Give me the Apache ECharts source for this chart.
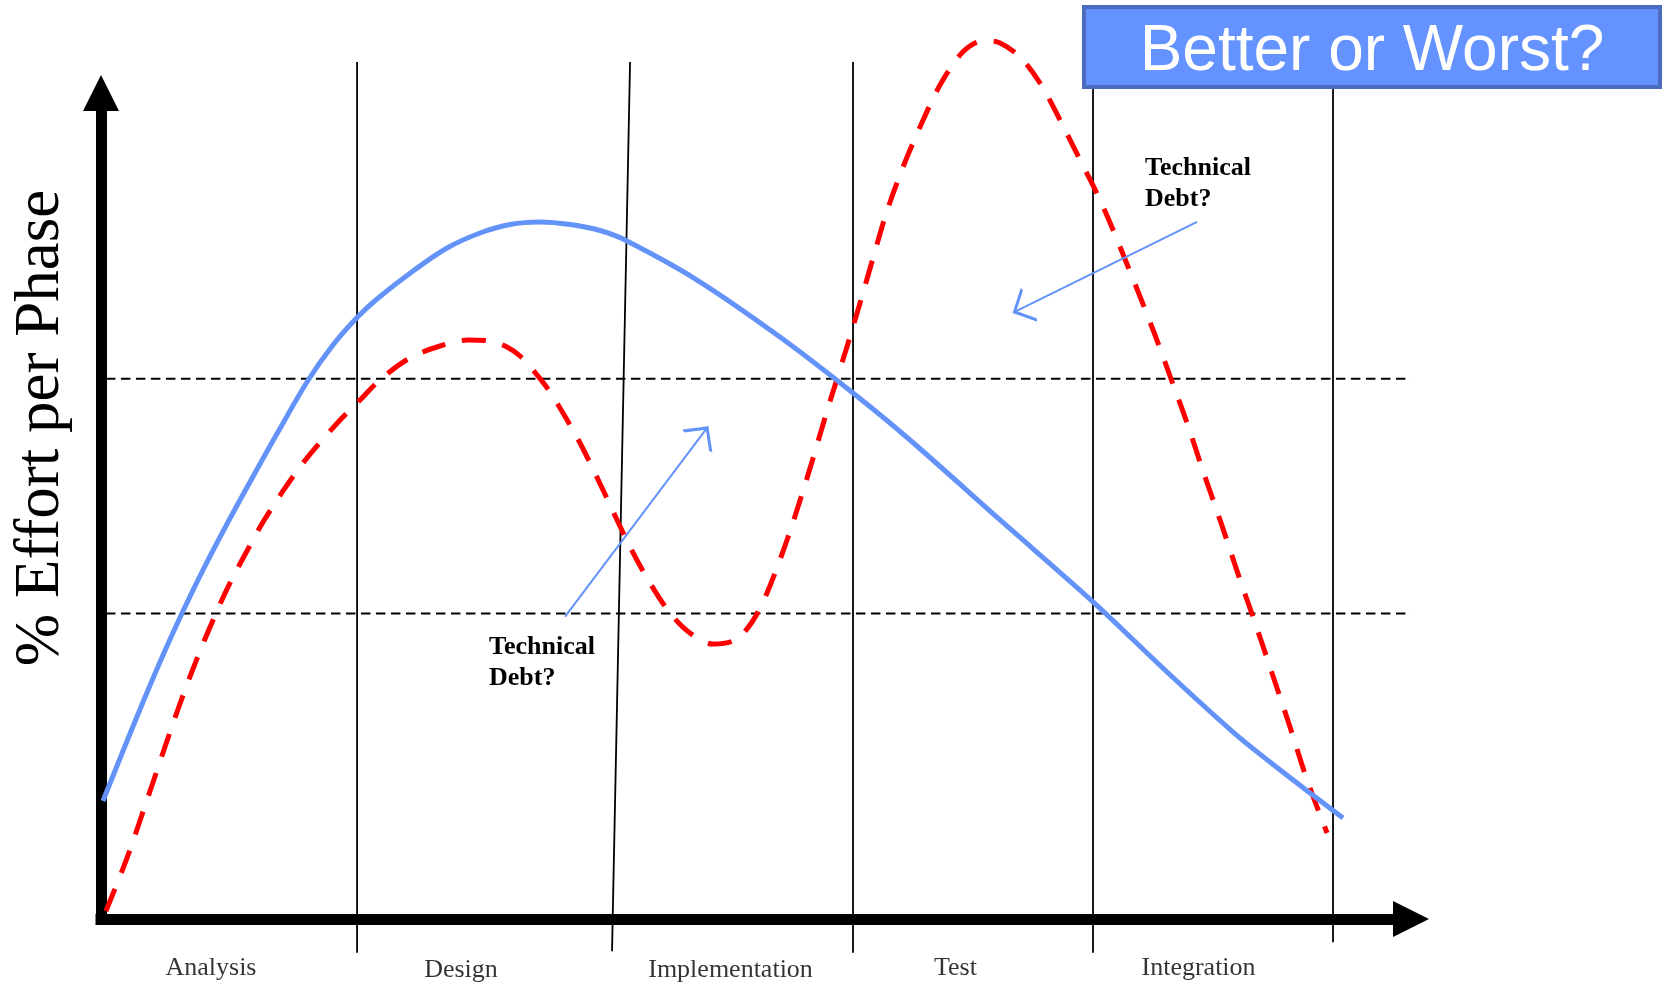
<!DOCTYPE html>
<html><head><meta charset="utf-8">
<script src="https://cdn.jsdelivr.net/npm/echarts@6/dist/echarts.min.js"></script>
<style>html,body{margin:0;padding:0;background:#fff}#c{width:1666px;height:984px}</style>
</head><body><div id="c"></div>
<script>
// Phases (x: % of project timeline, y: % effort)
const phases = ['Analysis', 'Design', 'Implementation', 'Test', 'Integration'];
const phaseLabelX = [8.9, 29.13, 50.94, 69.14, 88.81];
const phaseLabelY = [-5.95, -6.2, -6.2, -5.95, -5.95];

// Phase boundary lines (bottom/top ends)
const boundaryBottomX = [20.72, 41.35, 60.85, 80.27, 99.69];
const boundaryBottomY = [-4.1, -3.9, -4.1, -4.1, -2.8];
const boundaryTopX = [20.72, 42.81, 60.85, 80.27, 99.69];
const boundaryTopY = [103.75, 103.75, 103.75, 103.75, 103.75];

// Horizontal reference levels
const thresholds = [65.4, 37.0];
const thresholdStart = 0.4;
const thresholdEnd = 106;

// Planned effort (solid blue)
const plannedEffort = [
  [0.16, 14.29], [1.78, 20.34], [3.40, 26.27], [5.02, 31.96], [6.60, 37.17], [8.25, 42.25],
  [10.28, 48.06], [12.30, 53.57], [14.32, 58.96], [16.77, 65.25], [18.77, 69.49], [20.72, 72.82],
  [22.33, 75.06], [25.25, 78.45], [28.00, 81.23], [30.67, 83.05], [33.10, 84.08], [35.52, 84.38],
  [37.95, 84.08], [40.38, 83.35], [42.40, 82.20], [48.23, 77.36], [54.94, 70.46], [60.85, 63.68],
  [65.46, 57.99], [72.75, 48.31], [80.27, 38.40], [86.26, 29.90], [91.60, 22.63], [94.59, 19.00],
  [97.83, 15.25], [100.5, 12.23]
];

// Actual effort (dashed red)
const actualEffort = [
  [0.40, 0.97], [2.10, 7.38], [3.97, 15.50], [6.15, 25.06], [7.69, 31.23], [9.31, 37.05],
  [10.52, 40.92], [11.81, 44.55], [13.11, 48.06], [14.73, 51.82], [16.35, 55.21], [17.96, 58.11],
  [19.58, 60.78], [20.72, 62.47], [22.66, 65.38], [25.00, 67.92], [27.43, 69.37], [29.70, 70.10],
  [31.48, 69.98], [32.85, 69.25], [33.91, 68.16], [34.96, 66.46], [35.93, 64.65], [36.90, 62.47],
  [38.76, 57.63], [40.62, 51.94], [42.81, 45.04], [44.42, 40.68], [46.04, 37.05], [47.66, 34.62],
  [49.52, 33.29], [51.30, 33.78], [52.68, 35.96], [53.89, 39.47], [55.51, 45.88], [57.13, 53.39],
  [58.75, 61.50], [60.28, 68.89], [61.42, 74.58], [62.47, 80.02], [63.60, 85.71], [64.90, 91.04],
  [66.27, 95.88], [67.89, 100.97], [69.51, 104.60], [70.72, 106.05], [71.69, 106.29], [72.75, 106.05],
  [74.36, 104.36], [75.98, 101.21], [77.60, 96.73], [79.22, 91.89], [80.84, 87.05], [82.46, 81.36],
  [85.13, 71.31], [86.50, 65.74], [87.88, 60.05], [89.17, 54.24], [90.55, 48.30], [92.17, 41.04],
  [93.22, 36.56], [94.59, 30.51], [96.21, 23.24], [97.59, 16.83], [99.21, 10.41]
];

// "Technical Debt?" pointer arrows: [from, to]
const debtArrows = [
  [[37.55, 36.6], [49.12, 59.6]],
  [[88.69, 84.4], [73.80, 73.4]]
];

const BLUE = '#6393F9';
const chevron = 'path://M10,-18L10.01,-18Z M10,0 L20,18 L18.25,18.97 L10,4.1 L1.75,18.97 L0,18 Z';

const series = [];
boundaryBottomX.forEach((bx, i) => {
  series.push({
    type: 'line', data: [[bx, boundaryBottomY[i]], [boundaryTopX[i], boundaryTopY[i]]],
    symbol: 'none', clip: false, silent: true, z: 1,
    lineStyle: { color: '#000', width: 1.8 }
  });
});
thresholds.forEach(t => {
  series.push({
    type: 'line', data: [[thresholdStart, t], [thresholdEnd, t]],
    symbol: 'none', clip: false, silent: true, z: 1,
    lineStyle: { color: '#000', width: 2, type: [9.5, 5.5] }
  });
});
series.push({
  type: 'line', name: 'Actual', data: actualEffort, smooth: 0.33, symbol: 'none',
  clip: false, z: 3, lineStyle: { color: '#FF0000', width: 5, type: [24, 17] }
});
series.push({
  type: 'line', name: 'Planned', data: plannedEffort, smooth: 0.33, symbol: 'none',
  clip: false, z: 4, lineStyle: { color: BLUE, width: 5 }
});
series.push({
  type: 'lines', coordinateSystem: 'cartesian2d', z: 5, silent: true,
  data: debtArrows.map(a => ({ coords: a })),
  symbol: ['none', chevron], symbolSize: [20, 37.5],
  lineStyle: { color: BLUE, width: 2, opacity: 1, curveness: 0 }
});
series.push({
  type: 'scatter', clip: false, silent: true, symbolSize: 1,
  itemStyle: { color: 'rgba(0,0,0,0)' },
  data: phases.map((p, i) => [phaseLabelX[i], phaseLabelY[i], p]),
  label: {
    show: true, position: 'inside', formatter: p => p.data[2],
    color: '#000', fontFamily: 'Liberation Serif', fontSize: 26
  }
});

const chart = echarts.init(document.getElementById('c'));
chart.setOption({
  animation: false,
  backgroundColor: '#fff',
  grid: { left: 101, top: 93, width: 1310, height: 826, containLabel: false },
  xAxis: {
    type: 'value', min: 0, max: 106,
    axisLabel: { show: false }, axisTick: { show: false }, splitLine: { show: false },
    axisLine: { show: true, symbol: ['none', 'triangle'], symbolSize: [36, 36],
      lineStyle: { color: '#000', width: 11, cap: 'square' } }
  },
  yAxis: {
    type: 'value', min: 0, max: 100,
    axisLabel: { show: false }, axisTick: { show: false }, splitLine: { show: false },
    axisLine: { show: true, symbol: ['none', 'triangle'], symbolSize: [36, 36],
      lineStyle: { color: '#000', width: 11, cap: 'square' } }
  },
  series: series,
  graphic: [
    { type: 'rect', z: 100, shape: { x: 1084, y: 7, width: 576, height: 80 },
      style: { fill: '#6492FF', stroke: '#4A6BC0', lineWidth: 4 } },
    { type: 'text', z: 101, x: 1372, y: 52,
      style: { text: 'Better or Worst?', fill: '#fff', fontFamily: 'Liberation Sans', fontSize: 64,
        align: 'center', verticalAlign: 'middle' } },
    { type: 'text', x: 41.7, y: 428, rotation: Math.PI / 2,
      style: { text: '% Effort per Phase', fill: '#000', fontFamily: 'Liberation Serif', fontSize: 63,
        align: 'center', verticalAlign: 'middle' } },
    { type: 'text', x: 489, y: 632,
      style: { text: 'Technical\nDebt?', fill: '#000', fontFamily: 'Liberation Serif', fontWeight: 'bold',
        fontSize: 26, lineHeight: 31, align: 'left', verticalAlign: 'top' } },
    { type: 'text', x: 1145, y: 153,
      style: { text: 'Technical\nDebt?', fill: '#000', fontFamily: 'Liberation Serif', fontWeight: 'bold',
        fontSize: 26, lineHeight: 31, align: 'left', verticalAlign: 'top' } }
  ]
});
</script>
</body></html>
